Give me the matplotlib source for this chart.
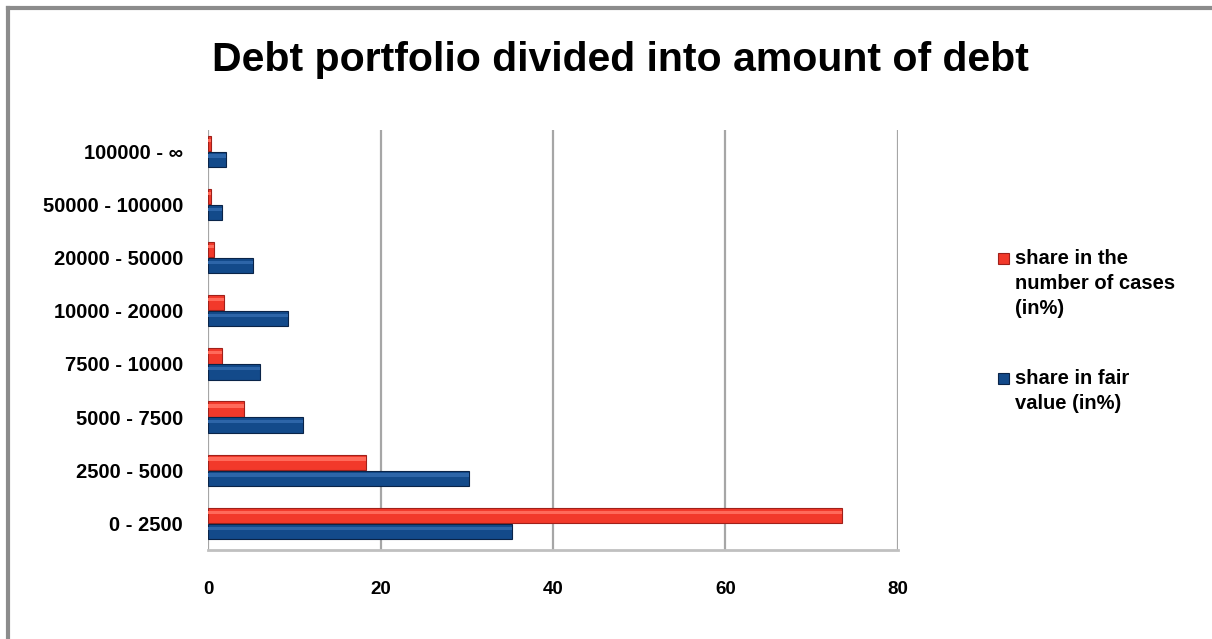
import matplotlib.pyplot as plt
from matplotlib.lines import Line2D
from matplotlib.patches import Rectangle

# debt size brackets, bottom row first
brackets = ["0 - 2500", "2500 - 5000", "5000 - 7500", "7500 - 10000",
            "10000 - 20000", "20000 - 50000", "50000 - 100000", "100000 - \u221e"]
share_cases = [73.5, 18.3, 4.2, 1.6, 1.9, 0.7, 0.3, 0.3]
share_value = [35.3, 30.3, 11.0, 6.0, 9.3, 5.2, 1.6, 2.1]
x_ticks = [0, 20, 40, 60, 80]
series_names = ["share in the\nnumber of cases\n(in%)", "share in fair\nvalue (in%)"]

red = "#f2392a"
blue = "#134a8a"

plt.rcParams["font.family"] = ["Liberation Sans", "DejaVu Sans"]
W, H = 1212, 639
fig = plt.figure(figsize=(W / 100, H / 100), dpi=100)

# frame around the chart area (only top and left edge show)
fig.add_artist(Line2D([8 / W, 1], [1 - 8 / H] * 2, color="#8c8c8c", lw=3))
fig.add_artist(Line2D([8 / W] * 2, [0, 1 - 8 / H], color="#8c8c8c", lw=3))

fig.text(0.512, 0.906, "Debt portfolio divided into amount of debt",
         ha="center", va="center", fontsize=29.5, fontweight="bold")

ax = fig.add_axes([208 / W, 1 - 550 / H, (898 - 208) / W, (550 - 130) / H])

ypos = list(range(len(brackets)))
h = 0.29
off = 0.15
ax.barh([y + off for y in ypos], share_cases, height=h, color=red,
        edgecolor="#a0201a", linewidth=0.8, zorder=3)
ax.barh([y - off for y in ypos], share_value, height=h, color=blue,
        edgecolor="#0a2448", linewidth=0.8, zorder=3)
# highlight strip on the bars for a rounded look
ax.barh([y + off + 0.06 for y in ypos], share_cases, height=0.06, color="#ff6a5a",
        linewidth=0, zorder=4)
ax.barh([y - off + 0.06 for y in ypos], share_value, height=0.06, color="#2d65a8",
        linewidth=0, zorder=4)

ax.set_xlim(0, 80)
ax.set_ylim(-0.5, 7.4)
ax.set_xticks(x_ticks)
ax.set_yticks(ypos)
ax.set_yticklabels(brackets, fontsize=14.5, fontweight="bold")
ax.set_xticklabels([str(t) for t in x_ticks], fontsize=13.5, fontweight="bold")
ax.tick_params(axis="x", length=0, pad=22)
ax.tick_params(axis="y", length=0, pad=18)

for t in x_ticks:
    ax.axvline(t, color="#a6a6a6", lw=1.6, zorder=1)
for s in ["top", "right", "left"]:
    ax.spines[s].set_visible(False)
ax.spines["bottom"].set_color("#c0c0c0")
ax.spines["bottom"].set_linewidth(2)

# legend: square key next to the first line of each label
for name, col, ec, top in zip(series_names, [red, blue], ["#a0201a", "#0a2448"], [249, 369]):
    fig.add_artist(Rectangle((998 / W, 1 - (top + 15) / H), 11 / W, 11 / H,
                             facecolor=col, edgecolor=ec, lw=0.8))
    fig.text(1015 / W, 1 - top / H, name, ha="left", va="top", fontsize=14.5,
             fontweight="bold", linespacing=1.4)

fig.savefig("out.png", dpi=100)
